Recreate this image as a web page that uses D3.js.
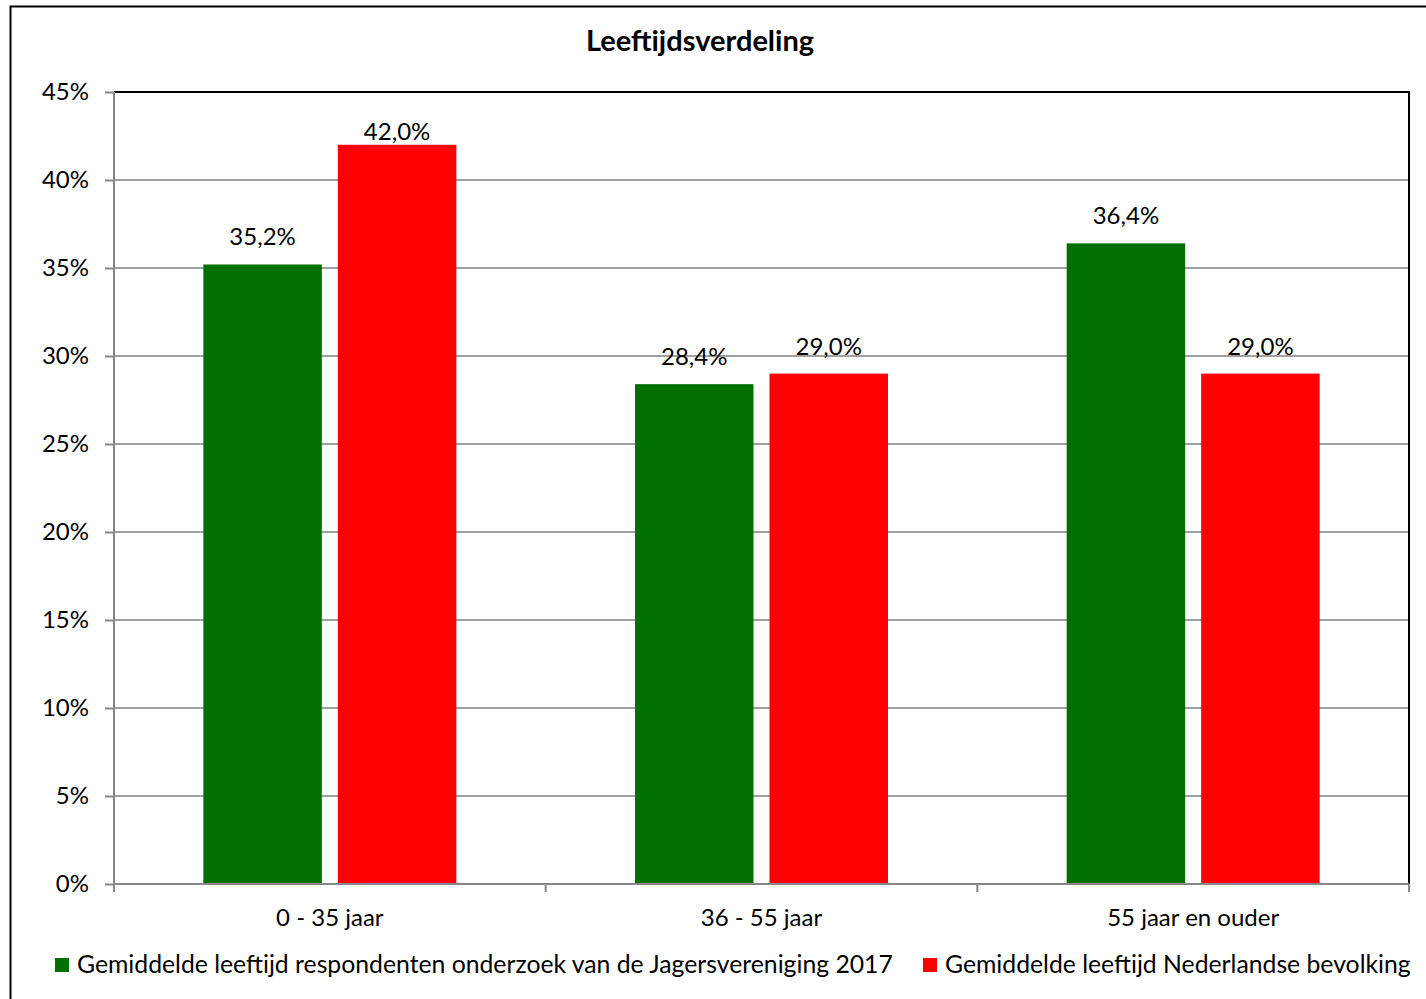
<!DOCTYPE html>
<html>
<head>
<meta charset="utf-8">
<script src="https://cdn.jsdelivr.net/npm/d3@7"></script>
<style>
  body { margin: 0; background: #fff; }
  text { font-family: Lato, "Open Sans", sans-serif; fill: #000; }
</style>
</head>
<body>
<svg id="chart" width="1426" height="999"></svg>
<script>
const categories = ["0 - 35 jaar", "36 - 55 jaar", "55 jaar en ouder"];
const series = ["Gemiddelde leeftijd respondenten onderzoek van de Jagersvereniging 2017", "Gemiddelde leeftijd Nederlandse bevolking"];
const jagers = [35.2, 28.4, 36.4];
const bevolking = [42.0, 29.0, 29.0];
const yTicks = [0, 5, 10, 15, 20, 25, 30, 35, 40, 45];
const colors = ["#007000", "#ff0000"];

const plotLeft = 114, plotRight = 1409, plotTop = 92, plotBottom = 884;
const font = "Lato, 'Open Sans', sans-serif";

const svg = d3.select("#chart");

// outer frame
svg.append("rect")
	.attr("x", 10.5).attr("y", 6.5)
	.attr("width", 1430).attr("height", 1010)
	.attr("fill", "none")
	.attr("stroke", "#000")
	.attr("stroke-width", 2);

const x = d3.scaleBand()
	.domain(categories)
	.range([plotLeft, plotRight]);

const xInner = d3.scaleBand()
	.domain([0, 1])
	.range([0, 253])
	.paddingInner(0.119);

const y = d3.scaleLinear()
	.domain([0, 45])
	.range([plotBottom, plotTop]);

// gridlines
svg.append("g")
	.selectAll("line")
	.data(yTicks.filter(d => d > 0 && d < 45))
	.join("line")
	.attr("x1", plotLeft).attr("x2", plotRight)
	.attr("y1", d => y(d)).attr("y2", d => y(d))
	.attr("stroke", "#a0a0a0")
	.attr("stroke-width", 2);

// plot border top/right
svg.append("path")
	.attr("d", `M${plotLeft},${plotTop}H${plotRight}V${plotBottom}`)
	.attr("fill", "none")
	.attr("stroke", "#000")
	.attr("stroke-width", 2);

const data = categories.map((c, i) => ({cat: c, values: [jagers[i], bevolking[i]]}));

const groups = svg.append("g")
	.selectAll("g")
	.data(data)
	.join("g")
	.attr("transform", d => `translate(${x(d.cat) + x.bandwidth() / 2 - 126.5},0)`);

groups.selectAll("rect")
	.data(d => d.values)
	.join("rect")
	.attr("x", (d, i) => xInner(i))
	.attr("y", d => y(d))
	.attr("width", xInner.bandwidth())
	.attr("height", d => plotBottom - y(d))
	.attr("fill", (d, i) => colors[i]);

// labels sit above the bar, but never closer than 48px to the plot top
groups.selectAll("text")
	.data(d => d.values)
	.join("text")
	.attr("x", (d, i) => xInner(i) + xInner.bandwidth() / 2)
	.attr("y", d => Math.max(y(d) - 19, plotTop + 48))
	.attr("text-anchor", "middle")
	.attr("font-size", 24)
	.text(d => d.toFixed(1).replace(".", ",") + "%");

// y axis
const yAxis = svg.append("g")
	.attr("transform", `translate(${plotLeft},0)`)
	.call(d3.axisLeft(y).tickValues(yTicks).tickSize(9).tickPadding(16).tickFormat(d => d + "%"));
yAxis.select(".domain").attr("stroke", "#888").attr("stroke-width", 2).attr("d", `M0,${plotTop}V${plotBottom + 8}`);
yAxis.selectAll(".tick line").attr("stroke", "#888").attr("stroke-width", 2);
yAxis.selectAll(".tick text").attr("font-size", 24).attr("font-family", font).attr("fill", "#000");

// x axis
const xAxis = svg.append("g")
	.attr("transform", `translate(0,${plotBottom})`)
	.call(d3.axisBottom(x).tickSize(0).tickPadding(25));
xAxis.select(".domain").attr("stroke", "#888").attr("stroke-width", 2).attr("d", `M${plotLeft},0H${plotRight}`);
xAxis.selectAll(".tick text").attr("font-size", 24).attr("font-family", font).attr("fill", "#000");
xAxis.selectAll("line.sep")
	.data(d3.range(categories.length + 1))
	.join("line")
	.attr("class", "sep")
	.attr("x1", i => plotLeft + i * x.step()).attr("x2", i => plotLeft + i * x.step())
	.attr("y1", 0).attr("y2", 8)
	.attr("stroke", "#888")
	.attr("stroke-width", 2);

// title
svg.append("text")
	.attr("x", 700).attr("y", 51)
	.attr("text-anchor", "middle")
	.attr("font-size", 29)
	.attr("font-weight", "bold")
	.text("Leeftijdsverdeling");

// legend
const legendX = [55, 923], legendW = [816, 466];
const legend = svg.append("g")
	.selectAll("g")
	.data(series)
	.join("g")
	.attr("transform", (d, i) => `translate(${legendX[i]},958)`);
legend.append("rect")
	.attr("width", 14).attr("height", 14)
	.attr("fill", (d, i) => colors[i]);
legend.append("text")
	.attr("x", 22).attr("y", 15)
	.attr("font-size", 22)
	.text(d => d)
	.each(function(d, i) {
		const w = this.getComputedTextLength();
		d3.select(this).attr("font-size", 22 * legendW[i] / w);
	});
</script>
</body>
</html>
